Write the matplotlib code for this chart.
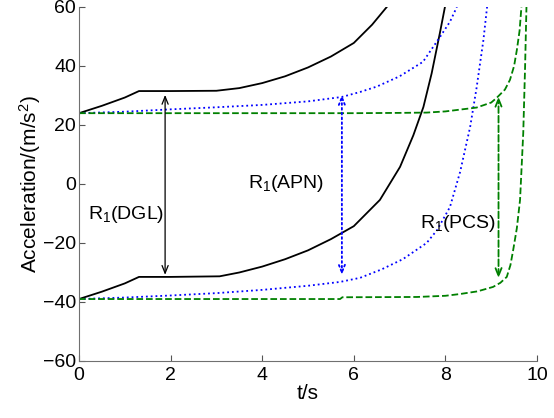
import matplotlib
matplotlib.use("Agg")
import matplotlib.pyplot as plt

plt.rcParams["font.family"] = ["Liberation Sans", "DejaVu Sans"]
plt.rcParams["mathtext.default"] = "regular"

# ── Data ─────────────────────────────────────────────────────────────────────
dgl_up_t = [0, 0.5, 1.0, 1.31, 2.0, 3.0, 3.5, 4.0, 4.5, 5.0, 5.5, 6.0, 6.4, 6.72]
dgl_up_a = [24, 26.5, 29.3, 31.5, 31.5, 31.6, 32.5, 34.2, 36.5, 39.5, 43.2, 47.8, 54, 60]

dgl_lo_t = [0, 0.5, 1.0, 1.31, 2.0, 3.07, 3.5, 4.0, 4.5, 5.0, 5.5, 6.0, 6.57,
            7.01, 7.3, 7.52, 7.7, 7.88, 7.99]
dgl_lo_a = [-39, -36.5, -33.7, -31.5, -31.5, -31.3, -30, -28, -25.5, -22.5,
            -18.7, -14.3, -5.4, 5.8, 16.5, 26.1, 37.5, 51.2, 60]

apn_up_t = [0, 1, 2, 3, 4, 5, 5.74, 6.14, 6.5, 7, 7.51, 7.88, 8.1, 8.25]
apn_up_a = [24, 24.5, 25.3, 26, 26.8, 28, 29.5, 31.2, 33, 36.5, 41.4, 49.8, 55, 60]

apn_lo_t = [0, 1, 2, 3, 4, 5, 5.7, 6.14, 6.6, 7.07, 7.59, 7.82, 8.1, 8.32,
            8.54, 8.68, 8.83, 8.91]
apn_lo_a = [-39, -38.5, -37.8, -37, -35.9, -34.5, -33.2, -31.8, -29, -25.5,
            -20, -15.6, -7.8, 4, 19.3, 32.5, 48.8, 60]

pcs_up_t = [0, 2, 4, 6, 7, 7.59, 8.0, 8.68, 9.0, 9.12, 9.3, 9.41, 9.5, 9.56,
            9.62, 9.66]
pcs_up_a = [24, 24, 24, 24, 24.1, 24.2, 24.6, 25.9, 27.6, 29.2, 32, 35.3,
            40, 45.4, 52, 60]

pcs_lo_t = [0, 2, 4, 5.7, 5.75, 7.38, 8.0, 8.32, 8.7, 9.04, 9.2, 9.34, 9.42,
            9.48, 9.56, 9.63, 9.70, 9.74, 9.77]
pcs_lo_a = [-39, -39, -39, -39, -38.4, -38.3, -37.9, -37.3, -36.4, -34.9,
            -33.5, -31.5, -27.5, -22.4, -15, -5.4, 17.3, 39.7, 60]

# range arrows: position, top tip, bottom tip
arrow_t = [1.88, 5.74, 9.16]
arrow_top = [30.2, 30.2, 29.6]
arrow_bot = [-30.8, -30.8, -31.9]
arrow_names = ["R$_1$(DGL)", "R$_1$(APN)", "R$_1$(PCS)"]
label_t = [0.2, 3.7, 7.45]
label_a = [-10.5, 0.3, -13.5]

colors = ["black", "blue", "green"]
styles = ["-", ":", "--"]

# ── Plot ─────────────────────────────────────────────────────────────────────
fig = plt.figure(figsize=(5.54, 4.18), dpi=100)
ax = fig.add_axes([0.1426, 0.1364, 0.8267, 0.8469])

curves = [(dgl_up_t, dgl_up_a, dgl_lo_t, dgl_lo_a),
          (apn_up_t, apn_up_a, apn_lo_t, apn_lo_a),
          (pcs_up_t, pcs_up_a, pcs_lo_t, pcs_lo_a)]
for (ut, ua, lt, la), c, ls in zip(curves, colors, styles):
    ax.plot(ut, ua, color=c, linestyle=ls, linewidth=1.3)
    ax.plot(lt, la, color=c, linestyle=ls, linewidth=1.3)

for t, top, bot, c, ls in zip(arrow_t, arrow_top, arrow_bot, colors, styles):
    lw = 0.9 if c == "black" else 1.3
    ax.annotate("", xy=(t, top), xytext=(t, bot),
                arrowprops=dict(arrowstyle="<->,head_length=0.55,head_width=0.22",
                                color=c, linestyle=ls, linewidth=lw,
                                shrinkA=0, shrinkB=0))

for name, x, y in zip(arrow_names, label_t, label_a):
    ax.text(x, y, name, fontsize=14, ha="left", va="center")

ax.set_xlim(0, 10)
ax.set_ylim(-60, 60)
ax.set_xticks(range(0, 11, 2))
ax.set_yticks(range(-60, 61, 20))
ax.tick_params(direction="in", length=4, labelsize=14, color="#555555")
ax.tick_params(axis="x", pad=4)
ax.tick_params(axis="y", pad=2)
for side in ["top", "right"]:
    ax.spines[side].set_visible(False)
for side in ["left", "bottom"]:
    ax.spines[side].set_color("#707070")

ax.set_xlabel("t/s", fontsize=15, labelpad=0)
ax.set_ylabel("Acceleration/(m/s$^2$)", fontsize=15, labelpad=0)

plt.savefig("out.png", dpi=100)
plt.close()
